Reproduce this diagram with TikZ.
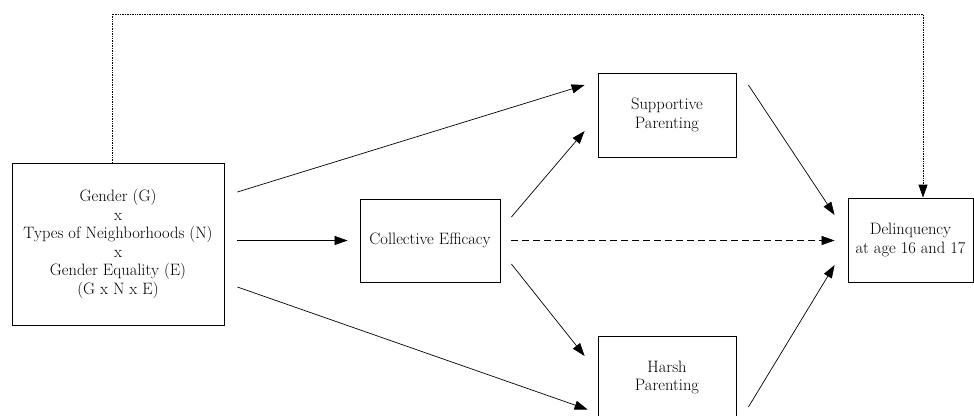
\documentclass[tikz,border=0pt]{standalone}
\usepackage{fontspec}
\usetikzlibrary{arrows.meta}
\begin{document}
\begin{tikzpicture}[x=1pt,y=-1pt,
  box/.style={draw, line width=0.8pt, align=center, inner sep=0pt,
    font=\fontsize{16.5}{18.5}\selectfont},
  arr/.style={-{Triangle[length=13pt,width=9pt]}, line width=0.7pt}]
\useasboundingbox (0,0) rectangle (974,415);
% boxes
\node[box, minimum width=212pt, minimum height=162pt] (G) at (118,244)
  {Gender (G)\\x\\Types of Neighborhoods (N)\\x\\Gender Equality (E)\\(G x N x E)};
\node[box, minimum width=140pt, minimum height=83pt] (CE) at (430,240.5) {Collective Efficacy};
\node[box, minimum width=138pt, minimum height=84pt] (SP) at (667,115) {Supportive\\Parenting};
\node[box, minimum width=138pt, minimum height=83pt] (HP) at (667,377.5) {Harsh\\Parenting};
\node[box, minimum width=125pt, minimum height=84pt] (D) at (910.5,240) {Delinquency\\at age 16 and 17};
\coordinate (top) at (923,14);
% paths
\draw[arr] ([xshift=13pt,yshift=52pt]G.east) -- ([xshift=-13pt,yshift=30pt]SP.west);
\draw[arr] ([xshift=13pt,yshift=3.5pt]G.east) -- ([xshift=-12pt]CE.west);
\draw[arr] ([xshift=13pt,yshift=-43pt]G.east) -- ([xshift=-10pt,yshift=-32pt]HP.west);
\draw[arr] ([xshift=11pt,yshift=23.5pt]CE.east) -- ([xshift=-13pt,yshift=-16pt]SP.west);
\draw[arr, dash pattern=on 7pt off 4pt] ([xshift=11pt]CE.east) -- ([xshift=-13pt,yshift=-0.5pt]D.west);
\draw[arr] ([xshift=11pt,yshift=-23.5pt]CE.east) -- ([xshift=-13pt,yshift=21.5pt]HP.west);
\draw[arr] ([xshift=12pt,yshift=30pt]SP.east) -- ([xshift=-13pt,yshift=25pt]D.west);
\draw[arr] ([xshift=12pt,yshift=-29.5pt]HP.east) -- ([xshift=-13pt,yshift=-25pt]D.west);
\draw[arr, densely dotted, line width=0.8pt] ([xshift=-6pt]G.north) |- (top) -- ([xshift=12.5pt]D.north);
\end{tikzpicture}
\end{document}
